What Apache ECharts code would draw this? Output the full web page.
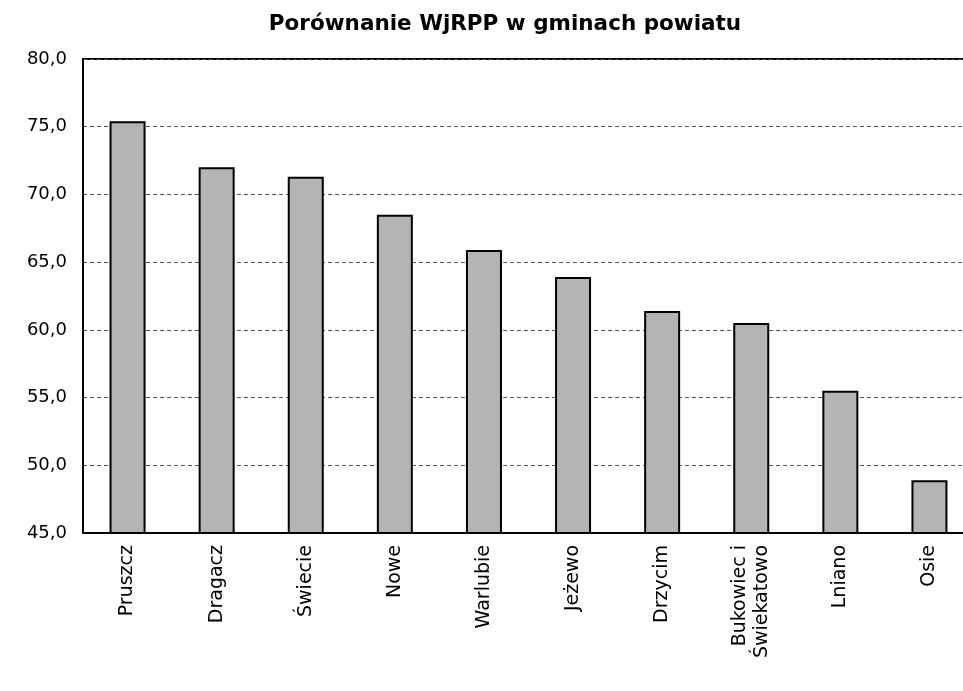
<!DOCTYPE html>
<html><head><meta charset="utf-8">
<script src="https://cdn.jsdelivr.net/npm/echarts@6/dist/echarts.min.js"></script>
<style>html,body{margin:0;padding:0;background:#fff}#c{width:963px;height:691px}</style>
</head><body><div id="c"></div>
<script>
const categories = ["Pruszcz","Dragacz","Świecie","Nowe","Warlubie","Jeżewo","Drzycim","Bukowiec i\nŚwiekatowo","Lniano","Osie"];
const values = [75.4, 72.0, 71.3, 68.5, 65.9, 63.9, 61.4, 60.5, 55.5, 48.9];
const yMin = 45, yMax = 80, yStep = 5;
const titleText = "Porównanie WjRPP w gminach powiatu";

const F = 'DejaVu Sans, Liberation Sans, Arial';
const chart = echarts.init(document.getElementById('c'), null, {renderer:'canvas'});
chart.setOption({
  backgroundColor:'#fff',
  animation:false,
  title:{text:titleText,left:500,textAlign:'center',top:8,
    textStyle:{fontFamily:F,fontWeight:'bold',fontSize:21.5,color:'#000'}},
  grid:{left:83,width:891,top:59,height:474,outerBoundsMode:'none',containLabel:false,
    show:true,borderColor:'#000',borderWidth:2,backgroundColor:'transparent'},
  xAxis:{type:'category',data:categories,
    axisLine:{lineStyle:{color:'#000',width:2}},
    axisTick:{show:false},
    axisLabel:{rotate:90,fontFamily:F,fontSize:19,color:'#000',margin:12,lineHeight:22}},
  yAxis:{type:'value',min:yMin,max:yMax,interval:yStep,
    axisLine:{show:true,lineStyle:{color:'#000',width:2}},
    axisTick:{show:false},
    axisLabel:{formatter:v=>v.toFixed(1).replace('.',','),fontFamily:F,fontSize:18,color:'#000',margin:16},
    splitLine:{lineStyle:{color:'#555',type:[4,3],width:1}}},
  series:[{type:'bar',data:values,barWidth:36,
    itemStyle:{color:'#b4b4b4',borderColor:'#000',borderWidth:2}}]
});
</script></body></html>
